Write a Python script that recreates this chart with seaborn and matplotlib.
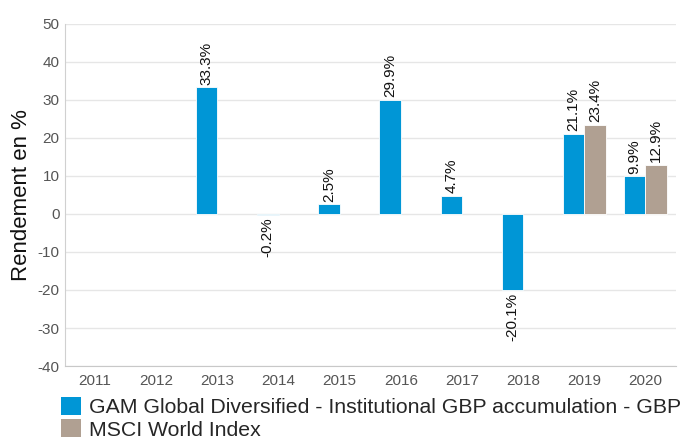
import numpy as np
import pandas as pd
import seaborn as sns
from matplotlib import pyplot as plt
from matplotlib.patches import Patch

years = ["2011", "2012", "2013", "2014", "2015", "2016", "2017", "2018", "2019", "2020"]
gam = [np.nan, np.nan, 33.3, -0.2, 2.5, 29.9, 4.7, -20.1, 21.1, 9.9]
msci = [np.nan] * 8 + [23.4, 12.9]
series = ["GAM Global Diversified - Institutional GBP accumulation - GBP", "MSCI World Index"]
colors = ["#0096d6", "#b0a092"]

df = pd.DataFrame({
    "year": years * 2,
    "value": gam + msci,
    "series": [series[0]] * len(years) + [series[1]] * len(years),
})

sns.set_style("white")
plt.rcParams["font.family"] = ["Liberation Sans", "DejaVu Sans"]
plt.rcParams["axes.unicode_minus"] = False

fig = plt.figure(figsize=(6.8, 4.41), dpi=100)
ax = fig.add_axes([0.095, 0.17, 0.899, 0.776])

sns.barplot(data=df, x="year", y="value", hue="series", order=years,
            hue_order=series, palette=colors, width=0.7, ax=ax,
            edgecolor="white", linewidth=0.6, saturation=1, legend=False)

for cont in ax.containers:
    labels = []
    for bar in cont:
        h = bar.get_height()
        labels.append("" if np.isnan(h) else f"{h:.1f}%")
    ax.bar_label(cont, labels=labels, rotation=90, padding=2, fontsize=11, color="#111111")

ax.set_ylim(-40, 50)
ax.set_yticks(range(-40, 51, 10))
ax.set_xlim(-0.5, 9.5)
ax.yaxis.grid(True, color="#e6e6e6", linewidth=1)
ax.set_axisbelow(True)
ax.set_xlabel("")
ax.set_ylabel("Rendement en %", fontsize=16, color="#111111", labelpad=4)
ax.tick_params(axis="both", labelsize=11, labelcolor="#555555", length=0)
ax.tick_params(axis="x", pad=6)
for s in ["top", "right"]:
    ax.spines[s].set_visible(False)
ax.spines["left"].set_color("#d0d0d0")
ax.spines["bottom"].set_color("#c8c8c8")

handles = [Patch(facecolor=c, edgecolor="none") for c in colors]
fig.legend(handles, series, loc="upper left", bbox_to_anchor=(0.09, 0.1),
           frameon=False, fontsize=15.3, handlelength=0.95, handleheight=0.95,
           handletextpad=0.35, labelspacing=0.08, borderaxespad=0, borderpad=0)

fig.savefig("out.png", dpi=100)
